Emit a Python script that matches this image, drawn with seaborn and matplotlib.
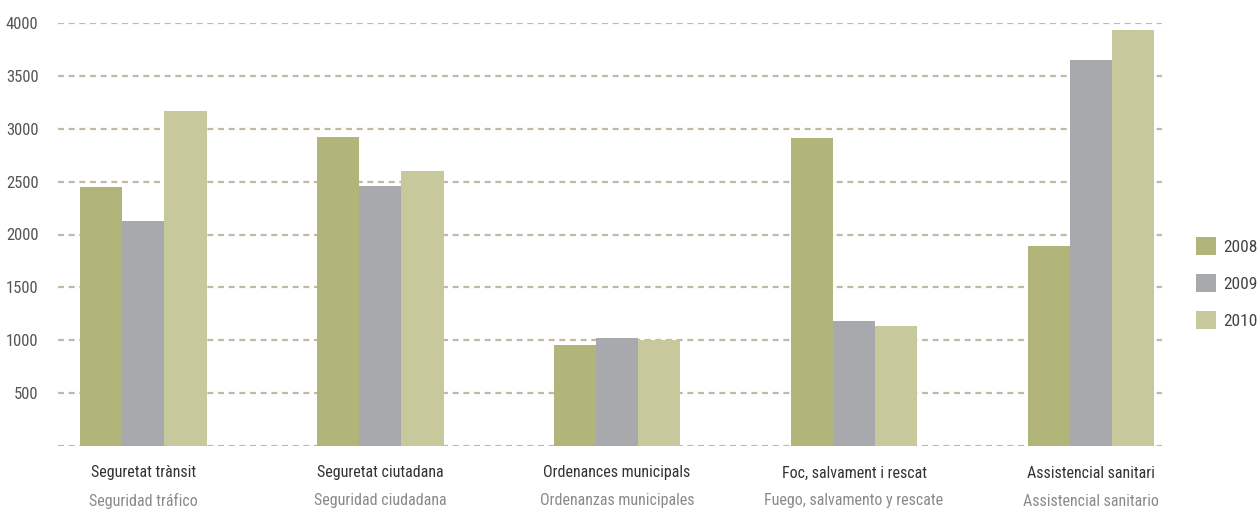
import pandas as pd
import matplotlib.pyplot as plt
import seaborn as sns

# datos
categorias_ca = ['Seguretat trànsit', 'Seguretat ciutadana', 'Ordenances municipals',
                 'Foc, salvament i rescat', 'Assistencial sanitari']
categorias_es = ['Seguridad tráfico', 'Seguridad ciudadana', 'Ordenanzas municipales',
                 'Fuego, salvamento y rescate', 'Assistencial sanitario']
anios = ['2008', '2009', '2010']
v2008 = [2450, 2925, 955, 2915, 1890]
v2009 = [2125, 2460, 1020, 1180, 3650]
v2010 = [3165, 2600, 1000, 1135, 3935]
yticks = [0, 500, 1000, 1500, 2000, 2500, 3000, 3500, 4000]

filas = []
for anio, vals in zip(anios, [v2008, v2009, v2010]):
    for cat, v in zip(categorias_ca, vals):
        filas.append({'categoria': cat, 'anio': anio, 'valor': v})
data = pd.DataFrame(filas)

sns.set_style('white')
fuente = ['Roboto Condensed', 'Liberation Sans Narrow', 'Roboto', 'DejaVu Sans']
plt.rcParams['font.family'] = fuente

colores = {'2008': '#b1b57a', '2009': '#a8a9ad', '2010': '#c7c99c'}

fig = plt.figure(figsize=(12.6, 5.15), dpi=100)
ax = fig.add_axes([58 / 1260, 1 - 446 / 515, (1162 - 58) / 1260, (446 - 23) / 515])

sns.barplot(data=data, x='categoria', y='valor', hue='anio', palette=colores,
            width=0.535, gap=0, saturation=1, linewidth=0, ax=ax, zorder=3)

ax.set_ylim(0, 4000)
ax.set_xlim(-0.36, 4.3)
ax.set_yticks(yticks)
ax.set_yticklabels([''] + [str(t) for t in yticks[1:]], color='#555555', fontsize=12)
ax.tick_params(axis='y', length=0, pad=14)
ax.set_xticks(range(len(categorias_ca)))
ax.set_xticklabels([])
ax.tick_params(axis='x', length=0)
ax.yaxis.grid(True, linestyle=(0, (2.7, 2.1)), color='#c2b9a3', linewidth=1.6, zorder=0)
ax.set_axisbelow(True)
for s in ax.spines.values():
    s.set_visible(False)
ax.set_xlabel('')
ax.set_ylabel('')

trans = ax.get_xaxis_transform()
for i, (ca, es) in enumerate(zip(categorias_ca, categorias_es)):
    ax.text(i, -27 / 423, ca, transform=trans, ha='center', va='center',
            fontsize=11.5, color='#333333')
    ax.text(i, -55 / 423, es, transform=trans, ha='center', va='center',
            fontsize=11.5, color='#8a8a8a')

handles, labels = ax.get_legend_handles_labels()
ax.legend(handles, labels, loc='center left', bbox_to_anchor=(1180 / 1260, 1 - 283 / 515),
          bbox_transform=fig.transFigure, frameon=False, handlelength=1.15, handleheight=1.2,
          handletextpad=0.45, labelspacing=1.1, fontsize=12.5, labelcolor='#444444')

plt.savefig('out.png', dpi=100)
